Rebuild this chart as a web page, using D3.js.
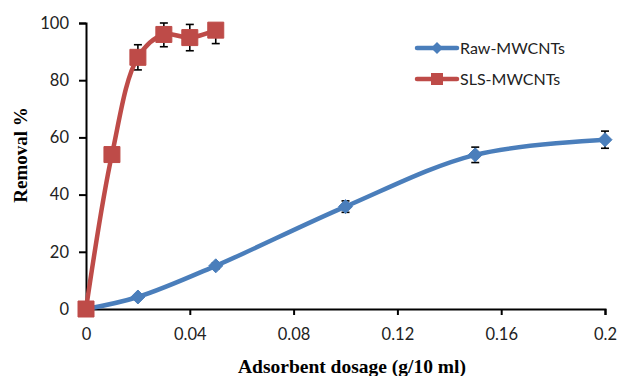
<!DOCTYPE html>
<html>
<head>
  <meta charset="utf-8" />
  <style>
    body { margin: 0; background: white; }
    svg { display: block; }
  </style>
  <script src="https://cdn.jsdelivr.net/npm/d3@7"></script>
</head>
<body>
  <svg id="chart" width="620" height="376"></svg>
  <script>
    // data
    var rawDose = [0, 0.02, 0.05, 0.1, 0.15, 0.2];
    var rawRemoval = [0, 4.2, 15.1, 35.8, 53.9, 59.2];
    var rawErr = [0, 0.8, 1, 2, 2.7, 3];

    var slsDose = [0, 0.01, 0.02, 0.03, 0.04, 0.05];
    var slsRemoval = [0, 54, 88, 96, 94.9, 97.5];
    var slsErr = [0, 2, 4.4, 4.3, 4.6, 4.7];

    var xTicks = [0, 0.04, 0.08, 0.12, 0.16, 0.2];
    var yTicks = [0, 20, 40, 60, 80, 100];

    var svg = d3.select('#chart');
    var x = d3.scaleLinear().domain([0, 0.2]).range([86, 605]);
    var y = d3.scaleLinear().domain([0, 100]).range([309, 23]);

    // axes
    var xAxis = svg.append('g').attr('transform', 'translate(0,309)')
      .call(d3.axisBottom(x).tickValues(xTicks).tickSizeOuter(0).tickSize(6).tickPadding(13)
        .tickFormat(function(d) { return String(+d.toFixed(2)); }));
    var yAxis = svg.append('g').attr('transform', 'translate(86,0)')
      .call(d3.axisLeft(y).tickValues(yTicks).tickSizeOuter(0).tickSize(7).tickPadding(10));
    [xAxis, yAxis].forEach(function(a) {
      a.select('.domain').attr('stroke', '#000').attr('stroke-width', 2);
      a.selectAll('.tick line').attr('stroke', '#000').attr('stroke-width', 2);
      a.selectAll('.tick text').attr('fill', '#222').style('font-family', 'Lato, sans-serif').style('font-size', '16.5px');
    });

    function drawSeries(xs, ys, es, color, shape) {
      var pts = xs.map(function(d, i) { return { x: d, y: ys[i], e: es[i] }; });

      // error bars, clipped at the top of the plot like Excel does
      var eb = svg.append('g').attr('stroke', '#000').attr('stroke-width', 1.6);
      pts.forEach(function(p) {
        if (!p.e) return;
        var hi = Math.min(p.y + p.e, 100), lo = p.y - p.e;
        var cx = x(p.x);
        eb.append('line').attr('x1', cx).attr('x2', cx).attr('y1', y(hi)).attr('y2', y(lo));
        if (p.y + p.e <= 100.3) eb.append('line').attr('x1', cx - 4).attr('x2', cx + 4).attr('y1', y(hi)).attr('y2', y(hi));
        eb.append('line').attr('x1', cx - 4).attr('x2', cx + 4).attr('y1', y(lo)).attr('y2', y(lo));
      });

      var line = d3.line().x(function(p) { return x(p.x); }).y(function(p) { return y(p.y); })
        .curve(d3.curveCatmullRom.alpha(0.5));
      svg.append('path').datum(pts).attr('d', line)
        .attr('fill', 'none').attr('stroke', color).attr('stroke-width', 4.5).attr('stroke-linecap', 'round');

      svg.append('g').selectAll('path').data(pts).join('path')
        .attr('transform', function(p) { return 'translate(' + x(p.x) + ',' + y(p.y) + ')'; })
        .attr('d', shape === 'diamond'
          ? 'M0,-7L7,0L0,7L-7,0Z'
          : 'M-8,-8H8V8H-8Z')
        .attr('fill', color).attr('stroke', color).attr('stroke-width', 1);
    }

    drawSeries(rawDose, rawRemoval, rawErr, '#4A7EBB', 'diamond');
    drawSeries(slsDose, slsRemoval, slsErr, '#BE4B48', 'square');

    // legend
    var legend = [
      { name: 'Raw-MWCNTs', color: '#4A7EBB', shape: 'M0,-6L6,0L0,6L-6,0Z', y: 48 },
      { name: 'SLS-MWCNTs', color: '#BE4B48', shape: 'M-6,-6H6V6H-6Z', y: 79 }
    ];
    legend.forEach(function(l) {
      var g = svg.append('g').attr('transform', 'translate(0,' + l.y + ')');
      g.append('line').attr('x1', 417).attr('x2', 457).attr('stroke', l.color).attr('stroke-width', 4.5).attr('stroke-linecap', 'round');
      g.append('path').attr('d', l.shape).attr('transform', 'translate(437,0)').attr('fill', l.color);
      g.append('text').attr('x', 460).attr('y', 6).text(l.name)
        .attr('fill', '#222').style('font-family', 'Lato, sans-serif').style('font-size', '16px');
    });

    // axis titles
    svg.append('text').attr('x', 352).attr('y', 373).attr('text-anchor', 'middle')
      .style('font-family', 'Liberation Serif, Times New Roman, serif').style('font-weight', 'bold').style('font-size', '19.5px')
      .text('Adsorbent  dosage (g/10 ml)');
    svg.append('text').attr('transform', 'translate(27,155) rotate(-90)').attr('text-anchor', 'middle')
      .style('font-family', 'Liberation Serif, Times New Roman, serif').style('font-weight', 'bold').style('font-size', '19px')
      .text('Removal %');
  </script>
</body>
</html>
